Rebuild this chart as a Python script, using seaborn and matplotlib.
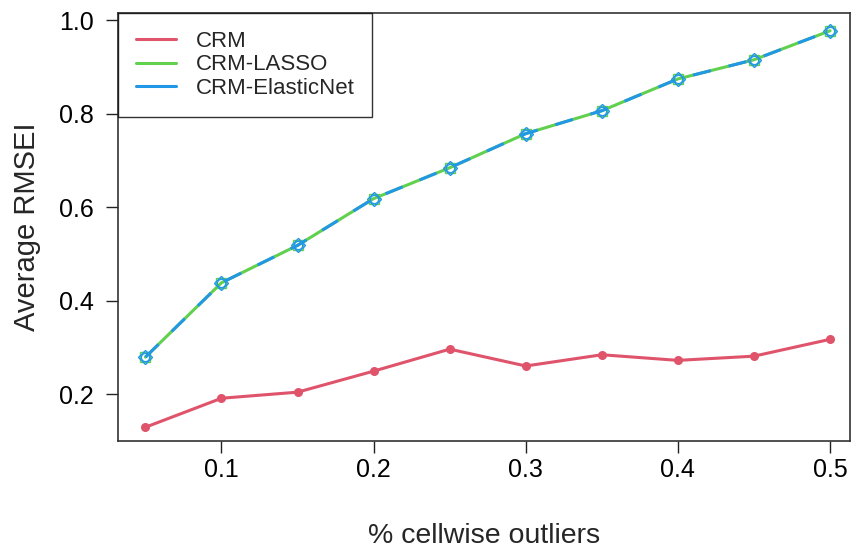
import matplotlib
matplotlib.use("Agg")
import matplotlib.pyplot as plt
import seaborn as sns
import pandas as pd

outliers = [0.05, 0.10, 0.15, 0.20, 0.25, 0.30, 0.35, 0.40, 0.45, 0.50]
crm = [0.129, 0.191, 0.204, 0.249, 0.296, 0.260, 0.284, 0.272, 0.281, 0.317]
crm_lasso = [0.279, 0.438, 0.518, 0.618, 0.684, 0.757, 0.806, 0.874, 0.915, 0.977]
crm_enet = [0.279, 0.438, 0.518, 0.618, 0.684, 0.757, 0.806, 0.874, 0.915, 0.977]
series_names = ["CRM", "CRM-LASSO", "CRM-ElasticNet"]
colors = ["#DF536B", "#61D04F", "#2297E6"]
y_ticks = [0.2, 0.4, 0.6, 0.8, 1.0]
x_ticks = [0.1, 0.2, 0.3, 0.4, 0.5]

sns.set_theme(style="white")
plt.rcParams['font.family'] = ['Liberation Sans', 'DejaVu Sans']

fig = plt.figure(figsize=(8.51, 5.51), dpi=100)
ax = fig.add_axes([0.1387, 0.1996, 0.8601, 0.7768])

df = pd.DataFrame({"x": outliers * 3,
                   "y": crm + crm_lasso + crm_enet,
                   "s": [series_names[0]] * 10 + [series_names[1]] * 10 + [series_names[2]] * 10})

sns.lineplot(data=df[df.s == "CRM"], x="x", y="y", color=colors[0], lw=2.2,
             marker="o", markersize=6.5, markeredgewidth=0, ax=ax, label="CRM")
sns.lineplot(data=df[df.s == "CRM-LASSO"], x="x", y="y", color=colors[1], lw=2.2,
             marker="s", markersize=6.5, markerfacecolor="none", markeredgecolor=colors[1],
             markeredgewidth=1.0, ax=ax, label="CRM-LASSO")
sns.lineplot(data=df[df.s == "CRM-ElasticNet"], x="x", y="y", color=colors[2], lw=2.2,
             linestyle=(0, (6, 6)), marker="D", markersize=7, markerfacecolor="none",
             markeredgecolor=colors[2], markeredgewidth=1.0, ax=ax, label="CRM-ElasticNet")
ax.plot(outliers, crm_enet, linestyle="none", marker="o", markersize=6,
        markerfacecolor="none", markeredgecolor=colors[2], markeredgewidth=1.0)

ax.set_xlim(0.032, 0.5131)
ax.set_ylim(0.0995, 1.015)
ax.set_xticks(x_ticks)
ax.set_xticklabels([f"{v:.1f}" for v in x_ticks])
ax.set_yticks(y_ticks)
ax.set_yticklabels([f"{v:.1f}" for v in y_ticks])
ax.tick_params(axis="both", direction="out", length=8.5, width=1, colors="#222222",
               labelsize=18, labelcolor="black", bottom=True, left=True)
ax.tick_params(axis="y", pad=9)
ax.tick_params(axis="x", pad=4)
for sp in ax.spines.values():
    sp.set_color("#333333")
    sp.set_linewidth(1.2)

ax.set_xlabel("% cellwise outliers", fontsize=20.5, labelpad=29)
ax.set_ylabel("Average RMSEI", fontsize=21, labelpad=13)

handles = [plt.Line2D([0], [0], color=c, lw=2.2) for c in colors]
leg = ax.legend(handles, series_names, loc="upper left", borderaxespad=0,
                fancybox=False, frameon=True, fontsize=16, handlelength=1.8,
                handletextpad=0.9, borderpad=0.8, labelspacing=0.12)
leg.get_frame().set_edgecolor("black")
leg.get_frame().set_linewidth(1.0)

fig.savefig("out.png", dpi=100)
